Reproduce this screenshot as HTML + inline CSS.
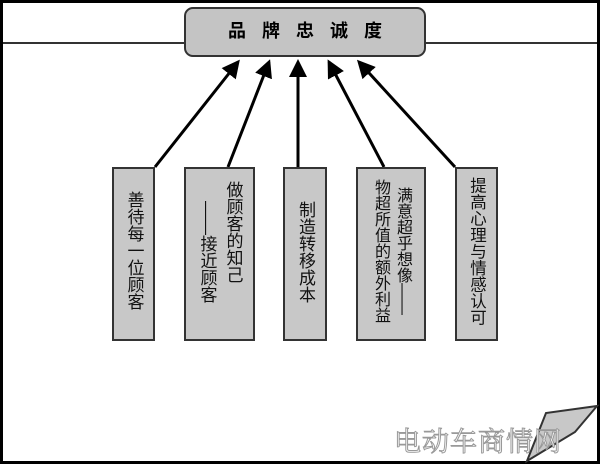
<!DOCTYPE html>
<html><head><meta charset="utf-8"><style>
body{margin:0;width:600px;height:464px;background:#fff;overflow:hidden;position:relative;font-family:"Liberation Sans","Noto Sans CJK SC",sans-serif}
.frame{position:absolute;left:0;top:0;width:594px;height:458px;border:3px solid #000}
.b{position:absolute;top:167px;height:174px;background:#c8c8c8;border:2px solid #333;box-sizing:border-box;display:flex;flex-direction:row-reverse;justify-content:center;align-items:flex-start;padding-top:12px;gap:6px}
.v{writing-mode:vertical-rl;font-size:17px;line-height:20px;color:#111;white-space:nowrap}
.t{position:absolute;left:184px;top:7px;width:242px;height:50px;background:#c4c4c4;border:2px solid #333;border-radius:9px;box-sizing:border-box;text-align:center;line-height:44px;font-size:18px;font-weight:bold;letter-spacing:16px;padding-left:16px}
.wm{position:absolute;left:394px;top:420px;font-size:27px;color:#fff;-webkit-text-stroke:1px #999;letter-spacing:1px;font-family:"Noto Serif CJK SC",serif}
</style></head><body>
<div class="frame"></div>
<svg width="600" height="464" style="position:absolute;left:0;top:0">
<defs><marker id="a" markerWidth="6" markerHeight="6" refX="5" refY="3" orient="auto"><path d="M0,0L6,3L0,6z" fill="#000"/></marker></defs>
<line x1="3" y1="43" x2="597" y2="43" stroke="#333" stroke-width="2"/>
<g stroke="#000" stroke-width="3" marker-end="url(#a)">
<line x1="155" y1="167" x2="238" y2="62"/>
<line x1="228" y1="167" x2="269" y2="62"/>
<line x1="298" y1="167" x2="298" y2="62"/>
<line x1="384" y1="167" x2="329" y2="62"/>
<line x1="455" y1="167" x2="359" y2="62"/>
</g>
<polygon points="527,461 546,413 597,406 575,432" fill="#c8c8c8" stroke="#333" stroke-width="2"/>
</svg>
<div class="t">品牌忠诚度</div>
<div class="b" style="left:112px;width:43px;padding-top:22px"><div class="v">善待每一位顾客</div></div>
<div class="b" style="left:184px;width:71px"><div class="v">做顾客的知己</div><div class="v" style="padding-top:20px">——接近顾客</div></div>
<div class="b" style="left:283px;width:44px;padding-top:32px"><div class="v">制造转移成本</div></div>
<div class="b" style="left:356px;width:70px;padding-top:10px;gap:4px"><div class="v" style="padding-top:8px;font-size:16px;line-height:18px">满意超乎想像——</div><div class="v" style="font-size:16px;line-height:18px">物超所值的额外利益</div></div>
<div class="b" style="left:455px;width:43px;padding-top:8px"><div class="v" style="font-size:16.5px">提高心理与情感认可</div></div>
<div class="wm">电动车商情网</div>
</body></html>
